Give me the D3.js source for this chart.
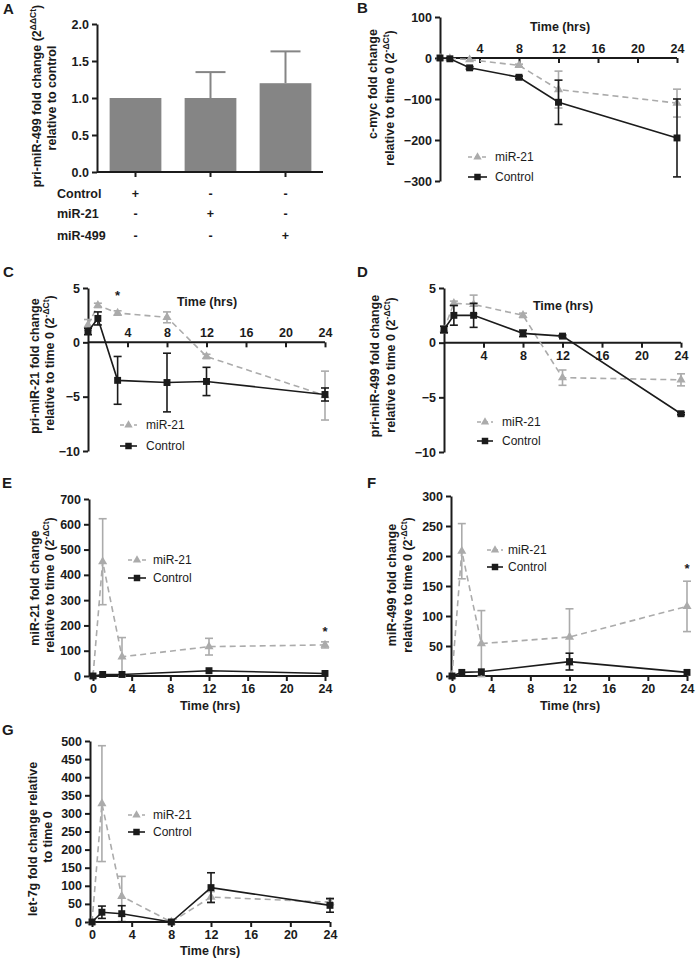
<!DOCTYPE html>
<html>
<head>
<meta charset="utf-8">
<script src="https://cdn.jsdelivr.net/npm/d3@7"></script>
<style>
  body { margin: 0; background: #fff; }
  text { font-family: "Liberation Sans", Arial, Helvetica, sans-serif; }
</style>
</head>
<body>
<script>
// ---- data ----
const barGroups = ["Control", "miR-21", "miR-499"];
const barMeans = [1.0, 1.0, 1.2];
const barErr = [0, 0.35, 0.43];
const tableRows = ["Control", "miR-21", "miR-499"];
const tableSigns = [["+", "-", "-"], ["-", "+", "-"], ["-", "-", "+"]];

const hours = [0, 1, 3, 8, 12, 24];
const hoursMature = [0, 1, 3, 12, 24];
const seriesNames = ["miR-21", "Control"];

const cmycMiR21 = [0, -1, -4, -18, -77, -110];
const cmycMiR21Err = [0, 0, 0, 3, 45, 34];
const cmycControl = [0, -2, -24, -47, -108, -195];
const cmycControlErr = [0, 0, 3, 3, 54, 95];

const pri21MiR21 = [1.6, 3.4, 2.7, 2.3, -1.3, -4.9];
const pri21MiR21Err = [0.5, 0.2, 0.2, 0.5, 0.2, 2.25];
const pri21Control = [1.0, 2.2, -3.5, -3.7, -3.6, -4.8];
const pri21ControlErr = [0.3, 0.6, 2.2, 2.7, 1.3, 0.6];

const pri499MiR21 = [1.2, 3.6, 3.5, 2.5, -3.2, -3.4];
const pri499MiR21Err = [0.3, 0.2, 0.85, 0.2, 0.7, 0.55];
const pri499Control = [1.2, 2.5, 2.5, 0.85, 0.6, -6.5];
const pri499ControlErr = [0.3, 0.9, 1.1, 0.3, 0.1, 0.1];

const mir21MiR21 = [0, 452, 76, 116, 123];
const mir21MiR21Err = [0, 170, 76, 33, 12];
const mir21Control = [0, 6, 6, 21, 10];
const mir21ControlErr = [0, 0, 0, 0, 0];

const mir499MiR21 = [0, 208, 54, 65, 116];
const mir499MiR21Err = [0, 46, 55, 47, 42];
const mir499Control = [0, 6, 7, 24, 6];
const mir499ControlErr = [0, 0, 0, 14, 0];

const let7MiR21 = [0, 327, 71, 0, 69, 55];
const let7MiR21Err = [0, 160, 55, 0, 15, 8];
const let7Control = [0, 27, 23, 0, 95, 46];
const let7ControlErr = [0, 17, 22, 0, 41, 19];

const ticksAbove = [4, 8, 12, 16, 20, 24];
const ticksFull = [0, 4, 8, 12, 16, 20, 24];

// ---- drawing ----
const black = "#1b1b1b", gray = "#ababab", barGray = "#858585";

const svg = d3.select("body").append("svg")
    .attr("width", 697)
    .attr("height", 958);

function styleAxis(sel) {
    sel.select(".domain").attr("stroke", black).attr("stroke-width", 2);
    sel.selectAll(".tick line").attr("stroke", black).attr("stroke-width", 2);
    sel.selectAll(".tick text")
        .attr("fill", black)
        .attr("font-size", 12.5)
        .attr("font-weight", "bold")
        .attr("font-family", "Liberation Sans, Arial, sans-serif");
}

// rotated two-line axis title; segments flagged sup are superscripts
function yTitle(x1, x2, cys, lines) {
    [x1, x2].forEach((cx, i) => {
        if (!lines[i]) return;
        const t = svg.append("text")
            .attr("transform", `translate(${cx},${cys[i]}) rotate(-90)`)
            .attr("text-anchor", "middle")
            .attr("dy", "0.35em")
            .attr("font-size", 12.5)
            .attr("font-weight", "bold")
            .attr("fill", black);
        lines[i].forEach(seg => {
            const sp = t.append("tspan").text(seg.t);
            if (seg.sup) sp.attr("font-size", 8.5).attr("dy", -5);
            else if (seg.after) sp.attr("dy", 5);
        });
    });
}

function letter(x, y, s) {
    svg.append("text").attr("x", x).attr("y", y)
        .attr("font-size", 15).attr("font-weight", "bold").attr("fill", black)
        .text(s);
}

const dct = [{ t: "relative to time 0 (2" }, { t: "-ΔCt", sup: true }, { t: ")", after: true }];

// ---- panel A ----
letter(3, 14, "A");
const xA = d3.scaleBand().domain(barGroups).range([98, 323])
    .paddingInner(0.31).paddingOuter(0.155);
const yA = d3.scaleLinear().domain([0, 2]).range([172, 24]);
const gA = svg.append("g");

barGroups.forEach((grp, i) => {
    const cx = xA(grp) + xA.bandwidth() / 2;
    if (barErr[i] > 0) {
        gA.append("line").attr("x1", cx).attr("x2", cx)
            .attr("y1", yA(barMeans[i])).attr("y2", yA(barMeans[i] + barErr[i]))
            .attr("stroke", barGray).attr("stroke-width", 2);
        gA.append("line").attr("x1", cx - 15).attr("x2", cx + 15)
            .attr("y1", yA(barMeans[i] + barErr[i])).attr("y2", yA(barMeans[i] + barErr[i]))
            .attr("stroke", barGray).attr("stroke-width", 2);
    }
});
gA.selectAll("rect.bar").data(barGroups).enter().append("rect")
    .attr("x", d => xA(d))
    .attr("y", (d, i) => yA(barMeans[i]))
    .attr("width", xA.bandwidth())
    .attr("height", (d, i) => yA(0) - yA(barMeans[i]))
    .attr("fill", barGray);

gA.append("g").attr("transform", "translate(97,0)")
    .call(d3.axisLeft(yA).tickValues([0, 0.5, 1, 1.5, 2]).tickFormat(d3.format(".1f")).tickSize(5).tickSizeOuter(0))
    .call(styleAxis);
gA.append("g").attr("transform", `translate(0,${yA(0)})`)
    .call(d3.axisBottom(xA).tickFormat("").tickSize(5).tickSizeOuter(0))
    .call(styleAxis)
    .select(".domain").attr("d", `M97,0H323`);

const rowY = [198, 218, 240];
tableRows.forEach((r, i) => {
    svg.append("text").attr("x", 57).attr("y", rowY[i])
        .attr("font-size", 12.5).attr("font-weight", "bold").attr("fill", black).text(r);
    tableSigns[i].forEach((s, j) => {
        svg.append("text").attr("x", xA(barGroups[j]) + xA.bandwidth() / 2).attr("y", rowY[i])
            .attr("text-anchor", "middle")
            .attr("font-size", 12.5).attr("font-weight", "bold").attr("fill", black).text(s);
    });
});
yTitle(37, 52, [96, 98], [
    [{ t: "pri-miR-499 fold change (2" }, { t: "ΔΔCt", sup: true }, { t: ")", after: true }],
    [{ t: "relative to control" }]
]);

// ---- time course panels ----
function linePanel(p) {
    const g = svg.append("g");
    const x = d3.scaleLinear().domain([0, 24]).range(p.xr);
    const y = d3.scaleLinear().domain(p.yd).range(p.yr);

    g.append("g").attr("transform", `translate(${p.axisX},0)`)
        .call(d3.axisLeft(y).tickValues(p.yt).tickSize(5).tickSizeOuter(0))
        .call(styleAxis);

    const xa = g.append("g").attr("transform", `translate(0,${y(0)})`)
        .call(d3.axisBottom(x).tickValues(p.xt).tickSize(5).tickSizeOuter(0))
        .call(styleAxis);
    xa.select(".domain").attr("d", `M${p.axisX},0H${p.xr[1]}`);
    if (p.above) xa.selectAll(".tick text").attr("y", -5).attr("dy", 0);

    svg.append("text").attr("x", p.title[0]).attr("y", p.title[1])
        .attr("text-anchor", "middle").attr("font-size", 12.5).attr("font-weight", "bold")
        .attr("fill", black).text("Time (hrs)");

    const series = [
        { vals: p.mir, errs: p.mirErr, color: gray, dash: "6,4", tri: true },
        { vals: p.ctl, errs: p.ctlErr, color: black, dash: null, tri: false }
    ];
    series.forEach(s => {
        const pts = p.t.map((t, i) => ({ t, v: s.vals[i], e: s.errs[i] }));
        const eb = g.append("g").attr("stroke", s.color).attr("stroke-width", 1.6);
        pts.filter(d => d.e > 0).forEach(d => {
            eb.append("line").attr("x1", x(d.t)).attr("x2", x(d.t))
                .attr("y1", y(d.v - d.e)).attr("y2", y(d.v + d.e));
            [d.v - d.e, d.v + d.e].forEach(v => {
                eb.append("line").attr("x1", x(d.t) - 4).attr("x2", x(d.t) + 4)
                    .attr("y1", y(v)).attr("y2", y(v));
            });
        });
        g.append("path").datum(pts)
            .attr("d", d3.line().x(d => x(d.t)).y(d => y(d.v)))
            .attr("fill", "none").attr("stroke", s.color).attr("stroke-width", 1.6)
            .attr("stroke-dasharray", s.dash);
        g.selectAll(null).data(pts).enter().append("path")
            .attr("transform", d => `translate(${x(d.t)},${y(d.v)})`)
            .attr("d", d3.symbol(s.tri ? d3.symbolTriangle : d3.symbolSquare, s.tri ? 36 : 48))
            .attr("fill", s.color);
    });

    // legend
    const L = p.legend;
    [L.y1, L.y2].forEach((ly, i) => {
        const s = series[i];
        svg.append("line").attr("x1", L.x1).attr("x2", L.x2).attr("y1", ly).attr("y2", ly)
            .attr("stroke", s.color).attr("stroke-width", 1.6)
            .attr("stroke-dasharray", s.dash ? "4,3" : null);
        svg.append("path").attr("transform", `translate(${(L.x1 + L.x2) / 2},${ly})`)
            .attr("d", d3.symbol(s.tri ? d3.symbolTriangle : d3.symbolSquare, s.tri ? 30 : 42))
            .attr("fill", s.color);
        svg.append("text").attr("x", L.tx).attr("y", ly).attr("dy", "0.35em")
            .attr("font-size", 12).attr("fill", black).text(seriesNames[i]);
    });

    if (p.star) {
        svg.append("text").attr("x", x(p.star[0])).attr("y", y(p.star[1]))
            .attr("text-anchor", "middle").attr("font-size", 13).attr("font-weight", "bold")
            .attr("fill", black).text("*");
    }

    letter(p.letter[0], p.letter[1], p.letter[2]);
    yTitle(p.ylab[0], p.ylab[1], p.ylab[2], p.ylines);
}

linePanel({
    t: hours, mir: cmycMiR21, mirErr: cmycMiR21Err, ctl: cmycControl, ctlErr: cmycControlErr,
    xr: [440, 677], axisX: 440, yd: [-300, 100], yr: [181, 17], yt: [-300, -200, -100, 0, 100],
    xt: ticksAbove, above: true, title: [560, 31],
    legend: { x1: 468, x2: 487, tx: 495, y1: 157, y2: 177 },
    letter: [357, 13, "B"], ylab: [373, 390, [84, 98]],
    ylines: [[{ t: "c-myc fold change" }], dct]
});

linePanel({
    t: hours, mir: pri21MiR21, mirErr: pri21MiR21Err, ctl: pri21Control, ctlErr: pri21ControlErr,
    xr: [88, 325], axisX: 88, yd: [-10, 5], yr: [451, 288], yt: [-10, -5, 0, 5],
    xt: ticksAbove, above: true, title: [207, 306],
    legend: { x1: 120, x2: 137, tx: 146, y1: 425, y2: 446 },
    star: [3, 3.9],
    letter: [3, 277, "C"], ylab: [35, 50, [366, 363]],
    ylines: [[{ t: "pri-miR-21 fold change" }], dct]
});

linePanel({
    t: hours, mir: pri499MiR21, mirErr: pri499MiR21Err, ctl: pri499Control, ctlErr: pri499ControlErr,
    xr: [444, 681], axisX: 444, yd: [-10, 5], yr: [452, 288], yt: [-10, -5, 0, 5],
    xt: ticksAbove, above: false, title: [563, 310],
    legend: { x1: 477, x2: 493, tx: 502, y1: 422, y2: 441 },
    letter: [357, 277, "D"], ylab: [375, 391, [366, 365]],
    ylines: [[{ t: "pri-miR-499 fold change" }], dct]
});

linePanel({
    t: hoursMature, mir: mir21MiR21, mirErr: mir21MiR21Err, ctl: mir21Control, ctlErr: mir21ControlErr,
    xr: [93, 325], axisX: 89, yd: [0, 700], yr: [676, 499], yt: d3.range(0, 701, 100),
    xt: ticksFull, above: false, title: [210, 710],
    legend: { x1: 128, x2: 146, tx: 153, y1: 560, y2: 578 },
    star: [24, 158],
    letter: [2, 488, "E"], ylab: [35, 50, [588, 585]],
    ylines: [[{ t: "miR-21 fold change" }], dct]
});

linePanel({
    t: hoursMature, mir: mir499MiR21, mirErr: mir499MiR21Err, ctl: mir499Control, ctlErr: mir499ControlErr,
    xr: [452, 687], axisX: 451, yd: [0, 300], yr: [676, 496], yt: d3.range(0, 301, 50),
    xt: ticksFull, above: false, title: [570, 710],
    legend: { x1: 487, x2: 503, tx: 508, y1: 550, y2: 567 },
    star: [24, 172],
    letter: [367, 488, "F"], ylab: [392, 408, [585, 585]],
    ylines: [[{ t: "miR-499 fold change" }], dct]
});

linePanel({
    t: hours, mir: let7MiR21, mirErr: let7MiR21Err, ctl: let7Control, ctlErr: let7ControlErr,
    xr: [92, 330], axisX: 90, yd: [0, 500], yr: [922, 741], yt: d3.range(0, 501, 50),
    xt: ticksFull, above: false, title: [210, 955],
    legend: { x1: 128, x2: 145, tx: 153, y1: 815, y2: 832 },
    letter: [2, 735, "G"], ylab: [33, 48, [839, 837]],
    ylines: [[{ t: "let-7g fold change relative" }], [{ t: "to time 0" }]]
});
</script>
</body>
</html>
